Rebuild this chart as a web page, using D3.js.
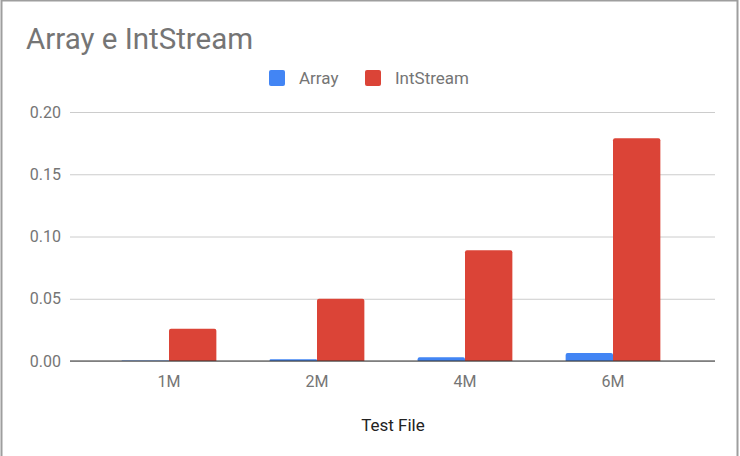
<!DOCTYPE html>
<html>
<head>
<meta charset="utf-8">
<script src="https://cdn.jsdelivr.net/npm/d3@7"></script>
<style>
  body { margin: 0; background: #fff; }
  text { font-family: Roboto, "Noto Sans", sans-serif; }
</style>
</head>
<body>
<div id="chart"></div>
<script>
// data
var categories = ["1M", "2M", "4M", "6M"]
var arrayValues = [0.0005, 0.0015, 0.003, 0.0065]
var intStreamValues = [0.026, 0.05, 0.089, 0.179]
var yTicks = [0, 0.05, 0.10, 0.15, 0.20]
var seriesNames = ["Array", "IntStream"]
var colors = ["#4285f4", "#db4437"]

var width = 740, height = 456

var svg = d3.select("#chart").append("svg")
  .attr("width", width)
  .attr("height", height)

// frame
svg.append("rect")
  .attr("x", 1.5).attr("y", 0.5)
  .attr("width", 736).attr("height", 470)
  .attr("fill", "none")
  .attr("stroke", "#9e9e9e")
  .attr("stroke-width", 2)

var xScale = d3.scaleBand()
  .domain(categories)
  .range([95, 687])
  .paddingInner(0.36)
  .paddingOuter(0.18)

var xSub = d3.scaleBand()
  .domain(seriesNames)
  .range([0, xScale.bandwidth()])

var yScale = d3.scaleLinear()
  .domain([0, 0.20])
  .range([361, 112])

// title
svg.append("text")
  .attr("x", 26).attr("y", 49)
  .attr("font-size", 29.5)
  .attr("fill", "#757575")
  .text("Array e IntStream")

// legend
var legend = svg.append("g")
var legendX = [269, 365]
seriesNames.forEach(function(name, i) {
  legend.append("rect")
    .attr("x", legendX[i]).attr("y", 70)
    .attr("width", 16).attr("height", 16)
    .attr("rx", 2)
    .attr("fill", colors[i])
  legend.append("text")
    .attr("x", legendX[i] + 30).attr("y", 84)
    .attr("font-size", 17)
    .attr("fill", "#757575")
    .text(name)
})

// gridlines + y labels
var yAxis = d3.axisLeft(yScale)
  .tickValues(yTicks)
  .tickFormat(d3.format(".2f"))
  .tickSize(-(715 - 70))
  .tickPadding(9)

var gy = svg.append("g")
  .attr("transform", "translate(70,0)")
  .call(yAxis)
gy.select(".domain").remove()
gy.selectAll(".tick line").attr("stroke", "#cccccc")
gy.selectAll(".tick text")
  .attr("font-size", 16)
  .attr("fill", "#757575")
  .attr("font-family", "Roboto, sans-serif")

// bars with rounded top corners
function barPath(x, w, v) {
  var y0 = yScale(0), y1 = yScale(v)
  var r = Math.min(2, (y0 - y1) / 2)
  return "M" + x + "," + y0 +
    "V" + (y1 + r) +
    "Q" + x + "," + y1 + " " + (x + r) + "," + y1 +
    "H" + (x + w - r) +
    "Q" + (x + w) + "," + y1 + " " + (x + w) + "," + (y1 + r) +
    "V" + y0 + "Z"
}

var groups = svg.append("g").selectAll("g")
  .data(categories)
  .enter().append("g")
  .attr("transform", function(d) { return "translate(" + xScale(d) + ",0)" })

groups.append("path")
  .attr("d", function(d, i) { return barPath(xSub("Array"), xSub.bandwidth(), arrayValues[i]) })
  .attr("fill", colors[0])

groups.append("path")
  .attr("d", function(d, i) { return barPath(xSub("IntStream"), xSub.bandwidth(), intStreamValues[i]) })
  .attr("fill", colors[1])

// baseline
svg.append("line")
  .attr("x1", 70).attr("x2", 715)
  .attr("y1", yScale(0)).attr("y2", yScale(0))
  .attr("stroke", "#333333")

// x axis labels
var xAxis = d3.axisBottom(xScale).tickSize(0).tickPadding(15)
var gx = svg.append("g")
  .attr("transform", "translate(0," + yScale(0) + ")")
  .call(xAxis)
gx.select(".domain").remove()
gx.selectAll(".tick text")
  .attr("font-size", 16)
  .attr("fill", "#757575")
  .attr("font-family", "Roboto, sans-serif")

// x axis title
svg.append("text")
  .attr("x", 393).attr("y", 431)
  .attr("text-anchor", "middle")
  .attr("font-size", 17)
  .attr("fill", "#222222")
  .text("Test File")
</script>
</body>
</html>
